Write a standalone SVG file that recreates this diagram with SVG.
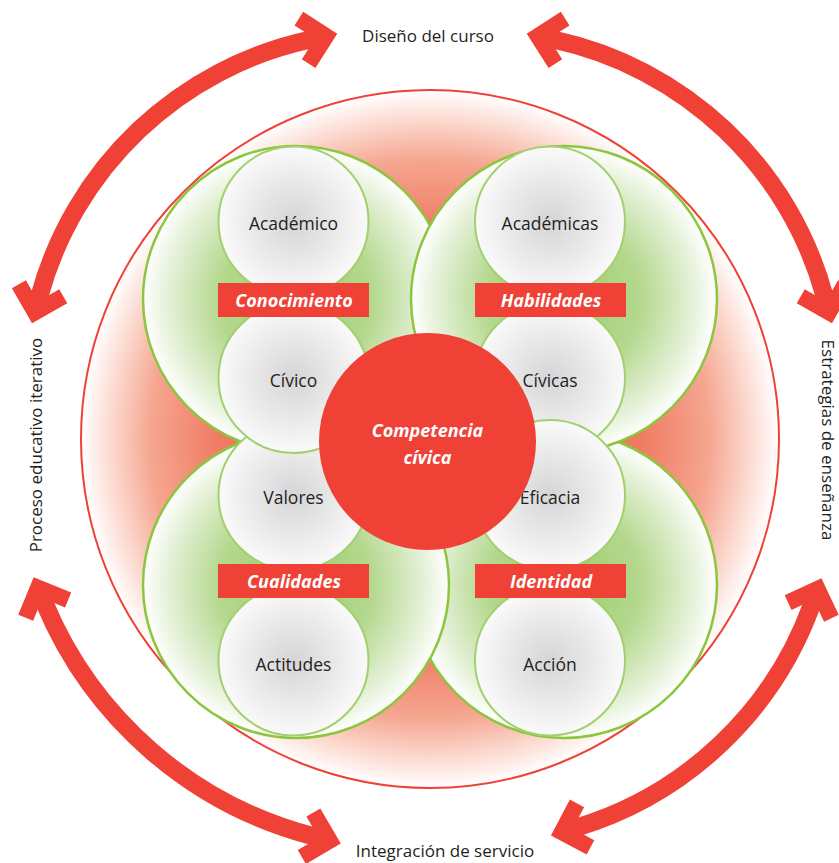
<svg xmlns="http://www.w3.org/2000/svg" width="839" height="863" viewBox="0 0 839 863">
<style>
.txt{font-family:"Open Sans","Noto Sans","Liberation Sans",sans-serif;font-size:17.5px;fill:#231f20;text-anchor:middle}
.out{font-family:"Open Sans","Noto Sans","Liberation Sans",sans-serif;font-size:17px;fill:#231f20;text-anchor:middle}
.lab{font-family:"Open Sans","Noto Sans","Liberation Sans",sans-serif;font-size:18px;font-weight:700;font-style:italic;fill:#ffffff;text-anchor:middle}
.green{fill:url(#gGreen);stroke:#8cc63f;stroke-width:2.5}
.small{fill:url(#gGray);stroke:#a3d06e;stroke-width:2}
.tag{fill:#ef4136}
.arrow{fill:none;stroke:#ef4136;stroke-width:18;marker-start:url(#head);marker-end:url(#head)}
</style>
<defs>
<radialGradient id="gBig" cx="0.5" cy="0.5" r="0.5">
<stop offset="0" stop-color="#ee5a45"/>
<stop offset="0.6" stop-color="#f07a62"/>
<stop offset="0.8" stop-color="#f5a690"/>
<stop offset="0.92" stop-color="#fcdcd2"/>
<stop offset="1" stop-color="#ffffff"/>
</radialGradient>
<radialGradient id="gGreen" cx="0.5" cy="0.5" r="0.5">
<stop offset="0" stop-color="#9ccb6a"/>
<stop offset="0.5" stop-color="#b4d88e"/>
<stop offset="0.85" stop-color="#e6f2da"/>
<stop offset="1" stop-color="#ffffff"/>
</radialGradient>
<radialGradient id="gGray" cx="0.5" cy="0.5" r="0.5">
<stop offset="0" stop-color="#d5d5d7"/>
<stop offset="0.6" stop-color="#ebebec"/>
<stop offset="1" stop-color="#fafafa"/>
</radialGradient>
<marker id="head" markerUnits="userSpaceOnUse" orient="auto-start-reverse" markerWidth="80" markerHeight="80" viewBox="-40 -40 80 80" refX="0" refY="0" overflow="visible">
<polygon points="28.3,0 -0.3,-28.7 -11.7,-17.3 -1,-6.6 -1,6.6 -11.7,17.3 -0.3,28.7" fill="#ef4136" stroke="none"/>
</marker>
</defs>

<g id="outer-circle">
<circle cx="430" cy="439" r="349" fill="url(#gBig)" stroke="#ef4136" stroke-width="2"/>
</g>

<g id="connectors">
<path class="arrow" d="M39.5,296 A359,359 0 0 1 309.6,39.8"/>
<path class="arrow" d="M554.4,39.8 A359,359 0 0 1 824.5,296"/>
<path class="arrow" d="M44.6,603.3 A400,400 0 0 0 313.4,836.3"/>
<path class="arrow" d="M578,827.1 A361,361 0 0 0 811.8,604.8"/>
</g>

<g id="group-conocimiento-bg"><circle class="green" cx="296" cy="299" r="153"/></g>
<g id="group-identidad-bg"><circle class="green" cx="564" cy="585" r="153"/></g>
<g id="group-habilidades-bg"><circle class="green" cx="564" cy="299" r="153"/></g>
<g id="group-cualidades-bg"><circle class="green" cx="296" cy="585" r="153"/></g>

<g id="node-academico"><circle class="small" cx="293.5" cy="221.5" r="75"/><text class="txt" x="293.5" y="230">Académico</text></g>
<g id="node-valores"><circle class="small" cx="293.5" cy="495" r="75"/><text class="txt" x="293.5" y="503.5">Valores</text></g>
<g id="node-civico"><circle class="small" cx="293.5" cy="378" r="75"/><text class="txt" x="293.5" y="386.5">Cívico</text></g>
<g id="node-actitudes"><circle class="small" cx="293.5" cy="660.5" r="75"/><text class="txt" x="293.5" y="671">Actitudes</text></g>

<g id="node-academicas"><circle class="small" cx="550" cy="221.5" r="75"/><text class="txt" x="550" y="230">Académicas</text></g>
<g id="node-civicas"><circle class="small" cx="550" cy="378" r="75"/><text class="txt" x="550" y="386.5">Cívicas</text></g>
<g id="node-eficacia"><circle class="small" cx="550" cy="495" r="75"/><text class="txt" x="550" y="503.5">Eficacia</text></g>
<g id="node-accion"><circle class="small" cx="550" cy="660.5" r="75"/><text class="txt" x="550" y="671">Acción</text></g>

<g id="label-conocimiento"><rect class="tag" x="218" y="283" width="151" height="34"/><text class="lab" x="294" y="306.5">Conocimiento</text></g>
<g id="label-habilidades"><rect class="tag" x="475" y="283" width="151" height="34"/><text class="lab" x="551" y="306.5">Habilidades</text></g>
<g id="label-cualidades"><rect class="tag" x="218" y="564" width="151" height="34"/><text class="lab" x="294" y="588">Cualidades</text></g>
<g id="label-identidad"><rect class="tag" x="475" y="564" width="151" height="34"/><text class="lab" x="551" y="588">Identidad</text></g>

<g id="node-competencia">
<circle cx="427.5" cy="441.5" r="108.5" fill="#ef4136"/>
<text class="lab" x="427.5" y="436.5">Competencia</text>
<text class="lab" x="427.5" y="463.5">cívica</text>
</g>

<g id="node-diseno"><text class="out" x="428" y="42.3">Diseño del curso</text></g>
<g id="node-integracion"><text class="out" x="445" y="857">Integración de servicio</text></g>
<g id="node-proceso"><text class="out" transform="translate(42,445) rotate(-90)">Proceso educativo iterativo</text></g>
<g id="node-estrategias"><text class="out" transform="translate(822,440) rotate(90)">Estrategias de enseñanza</text></g>
</svg>
